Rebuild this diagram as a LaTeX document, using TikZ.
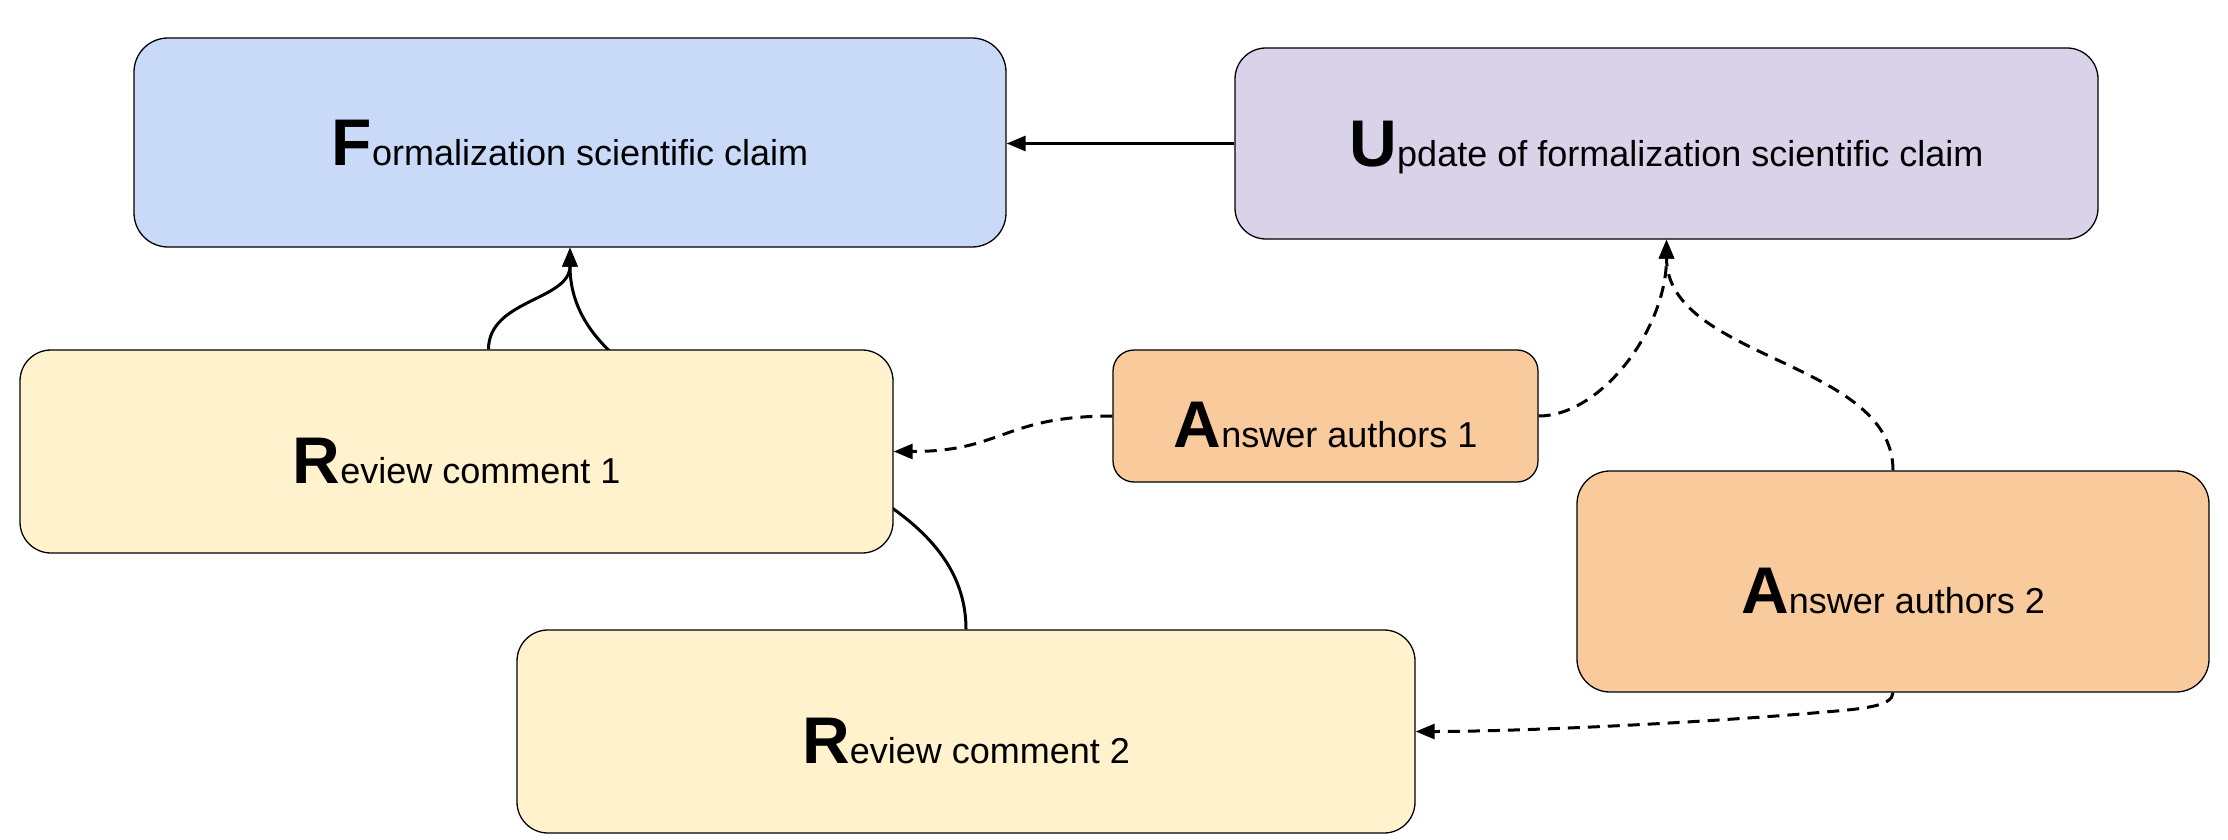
\documentclass[tikz,border=0pt]{standalone}
\usepackage{fontspec}
\setmainfont{Liberation Sans}
\usetikzlibrary{arrows.meta,backgrounds}
\definecolor{cblue}{HTML}{C9DAF8}
\definecolor{cpurple}{HTML}{D9D2E9}
\definecolor{cyellow}{HTML}{FFF2CC}
\definecolor{corange}{HTML}{F9CB9C}
\newcommand{\mylabel}[2]{{\fontsize{66}{72}\selectfont\bfseries #1}{\fontsize{36}{42}\selectfont #2}}
\begin{document}
\begin{tikzpicture}[x=1pt,y=-1pt,
  box/.style={draw=black, line width=1.3pt, inner sep=0pt},
  lbl/.style={anchor=base, inner sep=0pt},
  link/.style={line width=3pt, -{Triangle[length=19pt,width=15pt]}},
  dlink/.style={link, dash pattern=on 12pt off 8pt}]
\useasboundingbox (0,0) rectangle (2228,840);
% boxes
\node[box, fill=cblue, minimum width=872pt, minimum height=209pt, rounded corners=34pt] (F) at (570,142.5) {};
\node[box, fill=cpurple, minimum width=863pt, minimum height=191pt, rounded corners=31pt] (U) at (1666.5,143.5) {};
\node[box, fill=cyellow, minimum width=873pt, minimum height=203pt, rounded corners=31pt] (R1) at (456.5,451.5) {};
\node[box, fill=cyellow, minimum width=898pt, minimum height=203pt, rounded corners=31pt] (R2) at (966,731.5) {};
\node[box, fill=corange, minimum width=425pt, minimum height=132pt, rounded corners=21pt] (A1) at (1325.5,416) {};
\node[box, fill=corange, minimum width=632pt, minimum height=221pt, rounded corners=33pt] (A2) at (1893,581.5) {};
% labels
\node[lbl] (tF) at ([yshift=-23.5pt]F.center) {\mylabel{F}{ormalization scientific claim}};
\node[lbl] (tU) at ([yshift=-23.5pt]U.center) {\mylabel{U}{pdate of formalization scientific claim}};
\node[lbl] (tR1) at ([yshift=-31.5pt]R1.center) {\mylabel{R}{eview comment 1}};
\node[lbl] (tR2) at ([yshift=-31.5pt]R2.center) {\mylabel{R}{eview comment 2}};
\node[lbl] (tA1) at ([yshift=-31pt]A1.center) {\mylabel{A}{nswer authors 1}};
\node[lbl] (tA2) at ([yshift=-31.5pt]A2.center) {\mylabel{A}{nswer authors 2}};
\coordinate (bend) at (1825,712);
% connectors
\begin{pgfonlayer}{background}
\draw[link] (U.west) -- (U.west -| F.east);
\draw[link] (R2.north) .. controls +(0,-190) and +(0,193) .. (F.south);
\draw[link] ([xshift=32pt]R1.north) .. controls +(0,-50) and +(0,53) .. (F.south);
\draw[dlink] (A1.west) .. controls +(-110,0) and +(110,0) .. (R1.east);
\draw[dlink] (A1.east) .. controls +(62,0) and +(0,90) .. (U.south);
\draw[dlink] (A2.north) .. controls +(0,-110) and +(0,120) .. (U.south);
\draw[dlink] (A2.south) .. controls +(0,14) and +(35,-3) .. (bend) .. controls +(-125,11) and +(105,0) .. (R2.east);
\end{pgfonlayer}
\end{tikzpicture}
\end{document}
